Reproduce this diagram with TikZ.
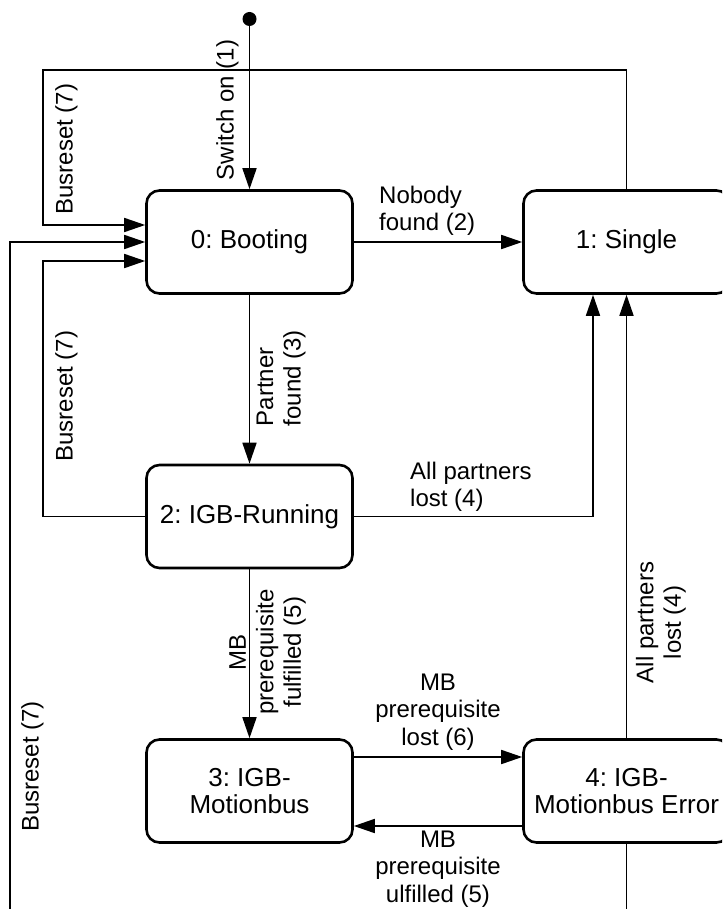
\documentclass[tikz,border=0pt]{standalone}
\usepackage{fontspec}
\setmainfont{Liberation Sans}
\usetikzlibrary{arrows.meta}
\frenchspacing
\begin{document}
\begin{tikzpicture}[x=1pt,y=-1pt,
  statebox/.style={draw, fill=white, line width=2.6pt, rounded corners=13pt,
    minimum width=206pt, minimum height=103pt, inner sep=0pt, align=center,
    font=\fontsize{26}{27}\selectfont},
  conn/.style={line width=1.7pt, -{Triangle[length=21pt,width=14pt]}},
  lbl/.style={inner sep=0pt, font=\fontsize{24}{27.5}\selectfont},
  vlbl/.style={lbl, rotate=90}]
  % page frame
  \useasboundingbox (0,0) rectangle (722,909);
  \fill[white] (0,0) rectangle (722,909);
  \clip (0,0) rectangle (722,909);

  % states
  \node[statebox] (b0) at (249.5,242) {0: Booting};
  \node[statebox] (b1) at (626.5,242) {1: Single};
  \node[statebox] (b2) at (249.5,516.5) {2: IGB-Running};
  \node[statebox] (b3) at (249.5,791) {3: IGB-\\Motionbus};
  \node[statebox] (b4) at (626.5,791) {4: IGB-\\Motionbus Error};

  % initial state
  \node[circle, fill, inner sep=0pt, minimum size=14pt] (init) at (249.5,19) {};
  \draw[conn] (init) -- (b0.north);

  % bus reset loops back to booting
  \coordinate (tlc) at (43,70);
  \draw[conn] (b1.north) |- (tlc) |- ([yshift=17pt]b0.west);
  \coordinate (blc) at (10,960);
  \draw[conn] (b4.south) |- (blc) |- (b0.west);
  \draw[conn] (b2.west) -- (43,516.5) |- ([yshift=-19pt]b0.west);

  % forward transitions
  \draw[conn] (b0) -- (b1);
  \draw[conn] (b0) -- (b2);
  \draw[conn] (b2) -- (b3);
  \draw[conn] (b2.east) -| ([xshift=-33.5pt]b1.south);
  \draw[conn] (b4) -- (b1);
  \draw[conn] ([yshift=34pt]b3.east) -- ([yshift=34pt]b4.west);
  \draw[conn] ([yshift=-35pt]b4.west) -- ([yshift=-35pt]b3.east);

  % transition labels
  \node[vlbl] (l1) at (227.5,110) {Switch on (1)};
  \node[vlbl] (l7a) at (66.5,149) {Busreset (7)};
  \node[lbl, anchor=west, align=left] (l2) at (379,211) {Nobody\\found (2)};
  \node[vlbl, align=left] (l3) at (281,378) {Partner\\found (3)};
  \node[vlbl] (l7b) at (66.5,396) {Busreset (7)};
  \node[lbl, anchor=west, align=left] (l4a) at (410,487) {All partners\\lost (4)};
  \node[vlbl, align=center] (l4b) at (661,622.5) {All partners\\lost (4)};
  \node[vlbl, align=center] (l5a) at (267.5,652) {MB\\prerequisite\\fulfilled (5)};
  \node[vlbl] (l7c) at (32.5,766.5) {Busreset (7)};
  \node[lbl, align=center] (l6) at (438,712) {MB\\prerequisite\\lost (6)};
  \node[lbl, align=center] (l5b) at (438,869) {MB\\prerequisite\\ulfilled (5)};
\end{tikzpicture}
\end{document}
